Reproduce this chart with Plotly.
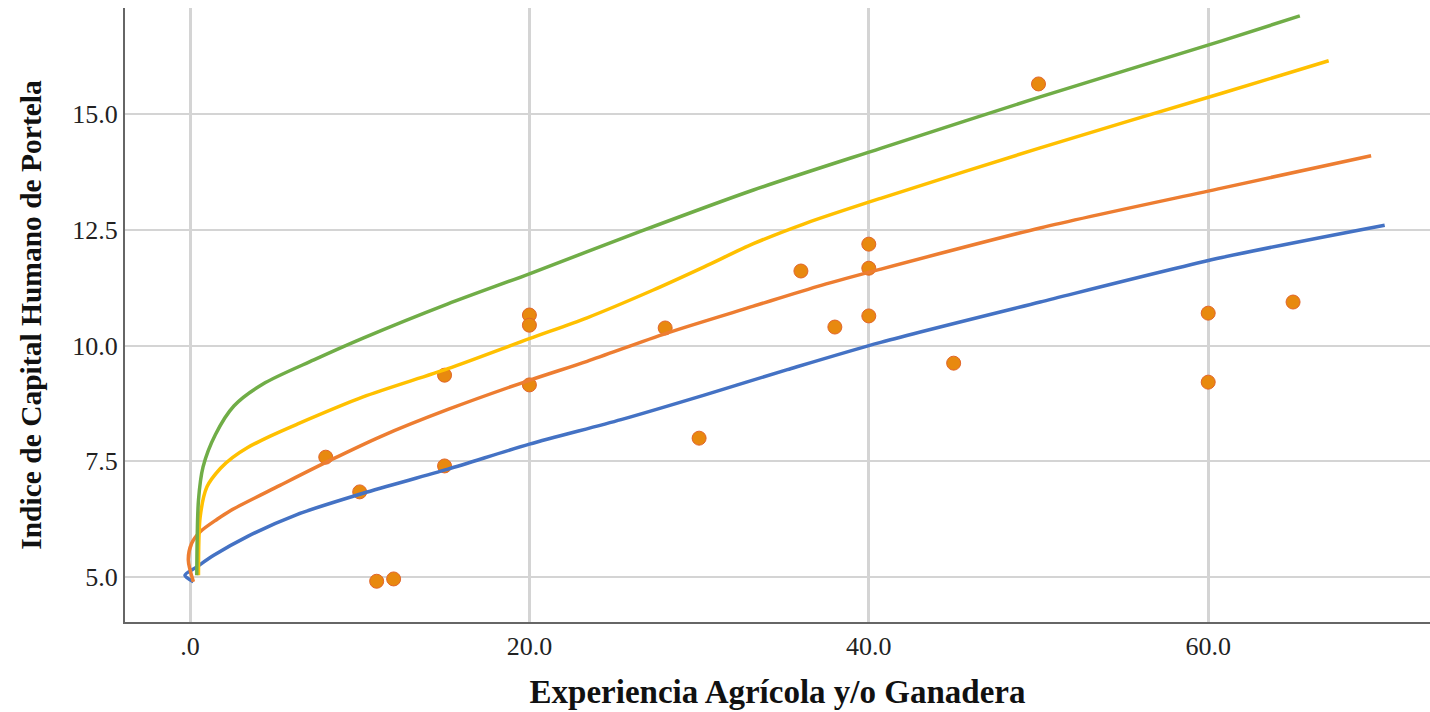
import plotly.graph_objects as go

# Observed data points
x_exp = [8, 10, 11, 12, 15, 15, 20, 20, 20, 28, 30, 36, 38, 40, 40, 40, 45, 50, 60, 60, 65]
y_idx = [7.59, 6.84, 4.91, 4.96, 9.36, 7.40, 10.66, 10.44, 9.15, 10.38, 8.00, 11.61, 10.40,
         12.19, 11.67, 10.64, 9.62, 15.65, 10.70, 9.21, 10.94]

# Fitted curves
blue_x = [0.2, -0.3, 0.4, 1.4, 3.4, 6.3, 10.2, 15.2, 20, 25.4, 30.3, 35.2, 40.7, 50.1, 60.8, 70.4]
blue_y = [4.9, 5.04, 5.22, 5.47, 5.88, 6.35, 6.81, 7.33, 7.87, 8.4, 8.93, 9.48, 10.07, 10.94, 11.9, 12.6]

orange_x = [0.2, -0.1, 0.1, 0.6, 1.6, 2.4, 5.3, 8.3, 11.2, 15.2, 20, 23.4, 28.1, 33.2, 37.2, 40.7, 50.1, 60.8, 69.6]
orange_y = [4.9, 5.37, 5.73, 5.98, 6.25, 6.44, 6.98, 7.53, 8.03, 8.62, 9.25, 9.66, 10.27, 10.85, 11.3, 11.65, 12.54, 13.4, 14.1]

yellow_x = [0.5, 0.6, 1.0, 1.8, 2.5, 3.4, 4.7, 6.3, 10.2, 15.2, 20, 23.4, 27.3, 30.3, 33.2, 36.2, 40.7, 50.1, 60.8, 67.1]
yellow_y = [5.04, 6.3, 6.95, 7.35, 7.58, 7.8, 8.04, 8.3, 8.89, 9.5, 10.15, 10.6, 11.2, 11.7, 12.2, 12.63, 13.18, 14.27, 15.45, 16.15]

green_x = [0.4, 0.5, 0.77, 1.5, 2.6, 4.3, 7.3, 10.2, 15.2, 20, 26.5, 33.2, 40.7, 50.1, 60.8, 65.4]
green_y = [5.04, 6.66, 7.38, 8.08, 8.7, 9.17, 9.69, 10.16, 10.9, 11.55, 12.46, 13.36, 14.26, 15.37, 16.58, 17.12]

x_tickvals = [0, 20, 40, 60]
x_ticktext = [".0", "20.0", "40.0", "60.0"]
y_tickvals = [5.0, 7.5, 10.0, 12.5, 15.0]
y_ticktext = ["5.0", "7.5", "10.0", "12.5", "15.0"]

fig = go.Figure()
fig.add_trace(go.Scatter(
    x=x_exp, y=y_idx, mode="markers",
    marker=dict(size=14, color="#E8890F", line=dict(color="#E2652B", width=1)),
    showlegend=False, hoverinfo="skip"))

for xs, ys, col in [(blue_x, blue_y, "#4472C4"), (orange_x, orange_y, "#ED7D31"),
                    (yellow_x, yellow_y, "#FFC000"), (green_x, green_y, "#70AD47")]:
    fig.add_trace(go.Scatter(x=xs, y=ys, mode="lines",
                             line=dict(color=col, width=3.5, shape="spline", smoothing=0.8),
                             showlegend=False, hoverinfo="skip"))

font_family = "Liberation Serif, Times New Roman, serif"
fig.update_layout(
    width=1430, height=712,
    margin=dict(l=125, r=0, t=8, b=90),
    paper_bgcolor="white", plot_bgcolor="white",
    font=dict(family=font_family, color="#222"),
    xaxis=dict(range=[-3.83, 73.07], tickvals=x_tickvals, ticktext=x_ticktext,
               showgrid=True, gridcolor="#d4d4d4", gridwidth=2.5, zeroline=False,
               showline=True, linecolor="#666", linewidth=2, ticks="",
               tickfont=dict(size=26, color="#222", family=font_family),
               title=dict(text="<b>Experiencia Agrícola y/o Ganadera</b>",
                          font=dict(size=33, color="#111", family=font_family), standoff=20)),
    yaxis=dict(range=[4.03, 17.29], tickvals=y_tickvals, ticktext=y_ticktext,
               showgrid=True, gridcolor="#d4d4d4", gridwidth=2, zeroline=False,
               showline=True, linecolor="#666", linewidth=2, ticks="",
               tickfont=dict(size=26, color="#222", family=font_family),
               title=dict(text="<b>Indice de Capital Humano de Portela</b>",
                          font=dict(size=29.5, color="#111", family=font_family), standoff=22)),
)

fig.write_html("out.html", config={"displayModeBar": False},
               post_script="document.body.style.margin='0';document.body.style.overflow='hidden';")
